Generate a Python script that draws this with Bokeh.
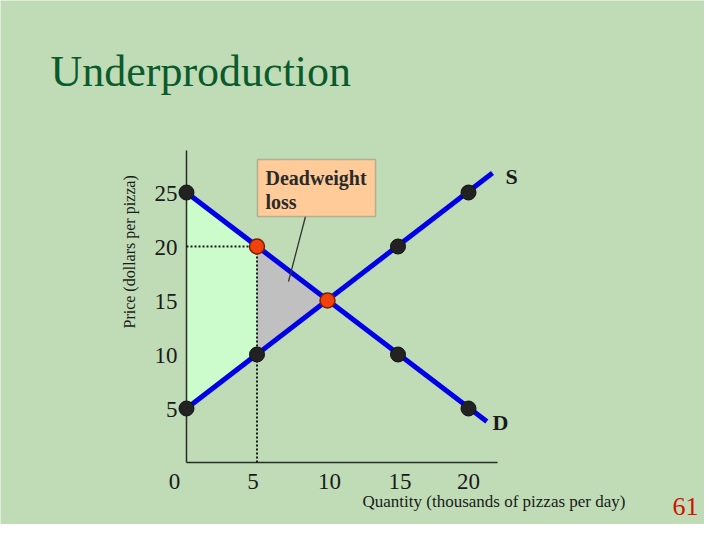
import math
from bokeh.plotting import figure
from bokeh.models import Label, BoxAnnotation, ColumnDataSource
from bokeh.embed import file_html
from bokeh.resources import INLINE

# ---- data ----
quantity = [0, 5, 10, 15, 20]                 # thousands of pizzas per day
demand_price = [25, 20, 15, 10, 5]            # dollars per pizza
supply_price = [5, 10, 15, 20, 25]
demand_line_q = [0, 21.3]
demand_line_p = [25, 3.8]
supply_line_q = [0, 21.7]
supply_line_p = [5, 26.8]
quota_q = 5
buyer_price = 20
seller_price = 10
equilibrium_q = 10
equilibrium_p = 15
x_ticks = [0, 5, 10, 15, 20]
x_tick_labels = ["0", "5", "10", "15", "20"]
y_ticks = [5, 10, 15, 20, 25]
y_tick_labels = ["5", "10", "15", "20", "25"]
x_axis_end = 22.06
y_axis_end = 28.9

BG = "#BFDCB6"
FONT = "Liberation Serif"

# pixel -> data helpers (for annotation placement only)
PX_X = 14.1
PX_Y = 10.8
X0 = 186.0
Y0 = 462.0
def dx(px):
    return (px - X0) / PX_X
def dy(py):
    return (Y0 - py) / PX_Y

W, H = 704, 524

p = figure(width=W, height=H, output_backend="svg", toolbar_location=None,
           x_range=(dx(0), dx(W)), y_range=(dy(H), dy(0)),
           min_border=0)
p.title.visible = False
p.axis.visible = False
p.background_fill_color = BG
p.border_fill_color = BG
p.outline_line_color = None
p.xgrid.visible = False
p.ygrid.visible = False

# regions
p.patch([quantity[0], quota_q, quota_q, quantity[0]],
        [demand_price[0], buyer_price, seller_price, supply_price[0]],
        fill_color="#CCFCCC", line_color=None)
p.patch([quota_q, equilibrium_q, quota_q],
        [buyer_price, equilibrium_p, seller_price],
        fill_color="#C0C0C0", line_color=None)

# axes lines
p.line([0, x_axis_end], [0, 0], line_color="#2a2a2a", line_width=1.5)
p.line([0, 0], [0, y_axis_end], line_color="#2a2a2a", line_width=1.5)

# tick labels (positioned by the data scales)
xt = ColumnDataSource(dict(x=x_ticks, y=[0] * len(x_ticks), text=x_tick_labels,
                           xo=[-12, -4, 2, 2, 0]))
p.text(x="x", y="y", text="text", source=xt, x_offset="xo", y_offset=19,
       text_align="center", text_baseline="middle", text_font={"value": FONT},
       text_font_size="23px", text_color="#1a1a1a")
yt = ColumnDataSource(dict(x=[0] * len(y_ticks), y=y_ticks, text=y_tick_labels))
p.text(x="x", y="y", text="text", source=yt, x_offset=-9, y_offset=1,
       text_align="right", text_baseline="middle", text_font={"value": FONT},
       text_font_size="23px", text_color="#1a1a1a")

# dotted guides
p.line([0, quota_q], [buyer_price, buyer_price], line_color="#1a1a1a",
       line_width=2, line_dash="2 2")
p.line([quota_q, quota_q], [0, buyer_price], line_color="#1a1a1a",
       line_width=2, line_dash="2 2")

# demand and supply
p.line(demand_line_q, demand_line_p, line_color="#0000E6", line_width=5)
p.line(supply_line_q, supply_line_p, line_color="#0000E6", line_width=5)

# points
black_q = [quantity[0], quantity[3], quantity[4], quantity[0], quantity[1], quantity[3], quantity[4]]
black_p = [demand_price[0], demand_price[3], demand_price[4], supply_price[0], supply_price[1], supply_price[3], supply_price[4]]
p.scatter(black_q, black_p, size=15, fill_color="#222222", line_color="#111111")
p.scatter([quota_q, equilibrium_q], [buyer_price, equilibrium_p], size=15,
          fill_color="#F2410C", line_color="#7A2000", line_width=1.5)

# Deadweight loss callout
p.segment(x0=[dx(305)], y0=[dy(216)], x1=[dx(288)], y1=[dy(281)],
          line_color="#333333", line_width=1.3)
p.add_layout(BoxAnnotation(left=dx(257), right=dx(375), top=dy(159), bottom=dy(216),
                           fill_color="#FFCC99", fill_alpha=1.0,
                           line_color="#555555", line_width=1.5))

def label(px, py, text, size, color="#1a1a1a", bold=False, align="left", angle=0.0):
    p.add_layout(Label(x=dx(px), y=dy(py), text=text, text_font=FONT,
                       text_font_style="bold" if bold else "normal",
                       text_font_size=size, text_color=color, angle=angle,
                       text_align=align, text_baseline="middle"))

label(265, 177, "Deadweight", "20px", color="#2a2a2a", bold=True)
label(265, 201, "loss", "20px", color="#2a2a2a", bold=True)

# curve labels
label(511, 176, "S", "22px", bold=True, align="center")
label(500, 422, "D", "22px", bold=True, align="center")

# title, axis labels, page number
label(50, 71, "Underproduction", "44px", color="#0B5A2C")
label(129, 328, "Price (dollars per pizza)", "16px", angle=math.pi / 2)
label(362, 501, "Quantity (thousands of pizzas per day)", "17px")
label(672, 506, "61", "26px", color="#CC1100")

open("out.html", "w").write(file_html(p, INLINE))
